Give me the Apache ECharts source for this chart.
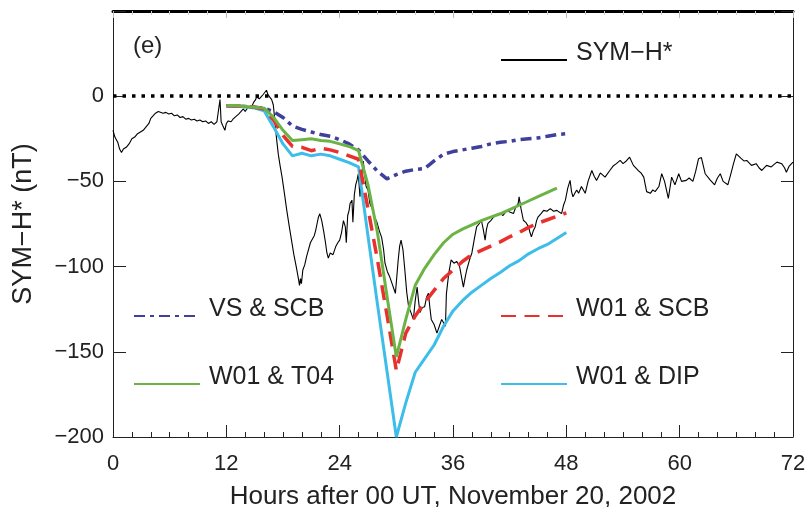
<!DOCTYPE html>
<html><head><meta charset="utf-8">
<script src="https://cdn.jsdelivr.net/npm/echarts@6/dist/echarts.min.js"></script>
<style>html,body{margin:0;padding:0;background:#fff}#c{width:808px;height:507px}</style>
</head><body><div id="c"></div>
<script>
// ---- data ----
const modelHours = [12,13,14,15,16,17,18,19,20,21,22,23,24,25,26,27,28,29,30,31,32,33,34,35,36,37,38,39,40,41,42,43,44,45,46,47,48];
const vsScb  = [-5.6,-5.8,-6,-6.5,-7,-9,-12.5,-17.5,-19.5,-21,-22.5,-23.5,-25.5,-28,-31.5,-38,-44,-48.5,-46,-44,-43,-42.5,-38,-34,-32.5,-31.5,-30.5,-29.5,-28,-27,-26.5,-25.5,-25,-24.5,-23.5,-22.5,-22];
const w01Scb = [-5.6,-5.6,-6,-6.5,-7.5,-14,-23,-29.5,-30,-32,-30.5,-31.5,-33,-35,-37,-66,-96,-128,-161,-139,-129,-121,-114,-107,-102,-97,-93,-90.5,-88,-85.5,-82.5,-80,-77,-74.5,-72.5,-70.5,-68.5];
const w01T04 = [-5.5,-5.5,-6,-6.5,-7,-12.4,-20,-26,-25.5,-25,-26,-26.5,-28,-29.5,-32,-52,-80,-117,-153,-131,-111,-101,-93,-86,-81,-78,-75.5,-73,-71,-69,-66.5,-64,-61.5,-59,-56.5,-54,null];
const w01Dip = [-5.6,-5.8,-6.3,-7,-8.5,-18,-28,-35,-33.5,-35,-34,-35,-37,-39,-41.5,-82,-122,-161,-200,-180,-162,-154,-146,-135,-126,-120,-115,-111,-107,-103.5,-99.5,-96.5,-92.5,-89.5,-87,-83.5,-80];
const symH = [
[0,-20],[0.2,-24],[0.5,-27],[0.7,-31],[0.9,-33],[1.1,-31],[1.4,-30],[1.7,-28],[2.0,-25],[2.3,-24],[2.6,-22],[2.9,-21],[3.2,-20],[3.5,-18],[3.8,-16],[4.0,-13],[4.2,-12],[4.5,-10],[4.8,-9],[5.0,-8.5],[5.3,-10],[5.6,-9.5],[5.9,-10.5],[6.2,-10],[6.5,-11.5],[6.8,-11],[7.1,-12.5],[7.4,-12],[7.7,-13.5],[8.0,-13],[8.3,-14],[8.6,-13.5],[8.9,-14.5],[9.2,-14],[9.5,-15],[9.8,-14.5],[10.1,-16],[10.4,-15],[10.7,-16.5],[11.0,-15],[11.2,-14],[11.33,-2],[11.45,-15],[11.6,-17],[11.85,-20],[12.0,-16],[12.2,-14.5],[12.5,-15],[12.7,-13.5],[13.0,-12],[13.3,-10.5],[13.5,-11],[13.8,-7.5],[14.0,-9],[14.3,-6.5],[14.6,-7],[14.9,-3.5],[15.1,-2],[15.2,-0.5],[15.5,-1.5],[15.7,-0.3],[15.9,1],[16.1,1.5],[16.25,3.5],[16.4,1],[16.6,-0.5],[16.8,-2],[16.97,-5],[17.1,-12],[17.3,-24],[17.5,-34],[17.7,-41],[17.9,-47.5],[18.15,-57],[18.4,-67],[18.65,-76],[18.9,-84.5],[19.15,-93],[19.4,-100],[19.6,-106],[19.75,-111],[19.85,-107],[19.95,-110],[20.1,-102],[20.3,-99],[20.5,-94],[20.7,-90],[20.9,-86],[21.1,-84],[21.3,-82],[21.45,-79],[21.6,-75],[21.75,-71],[21.9,-69],[22.1,-73],[22.3,-79],[22.5,-86],[22.65,-92],[22.8,-95],[23.0,-92],[23.3,-93],[23.6,-88],[23.8,-86],[24.0,-84.5],[24.2,-80],[24.4,-73],[24.6,-76.7],[24.7,-86],[24.85,-70],[25.0,-67],[25.1,-63],[25.3,-61],[25.4,-74],[25.55,-58],[25.7,-52],[25.85,-49],[25.97,-45.5],[26.15,-59],[26.3,-48],[26.5,-38],[26.65,-46],[26.8,-53],[27.0,-55],[27.2,-63],[27.45,-66],[27.7,-71],[27.95,-74],[28.2,-79],[28.45,-83],[28.65,-90],[28.8,-98],[29.05,-103],[29.3,-106],[29.55,-110],[29.8,-114],[29.9,-115.7],[30.05,-106],[30.2,-96],[30.35,-88],[30.5,-84.5],[30.7,-90],[30.9,-102],[31.1,-115],[31.3,-123.5],[31.55,-127],[31.8,-131],[32.0,-120],[32.2,-112],[32.35,-120],[32.5,-127],[32.75,-124],[33.0,-123.5],[33.2,-118],[33.4,-115.7],[33.55,-124],[33.7,-131],[34.0,-134],[34.3,-139],[34.55,-135],[34.8,-131],[35.0,-133],[35.2,-135],[35.3,-116],[35.55,-104],[35.8,-96],[36.1,-98],[36.4,-97],[36.7,-100],[36.9,-106],[37.1,-112],[37.3,-106],[37.45,-102],[37.75,-96],[38.0,-92],[38.25,-84],[38.5,-76.7],[38.75,-75],[39.0,-72.8],[39.2,-78],[39.4,-84.5],[39.55,-78],[39.7,-74.7],[40.0,-73],[40.3,-70.9],[40.6,-70],[40.98,-68.9],[41.3,-70],[41.7,-67],[42.0,-68],[42.4,-68.9],[42.65,-65],[42.9,-63],[43.0,-59],[43.2,-66],[43.45,-72.8],[43.7,-74],[44.0,-76.7],[44.15,-80],[44.3,-82.6],[44.5,-79],[44.7,-76.7],[44.85,-73],[45.0,-70.9],[45.3,-69],[45.6,-67],[45.95,-67.5],[46.3,-66],[46.65,-67.5],[47.0,-67],[47.25,-68],[47.5,-68.9],[47.7,-64],[47.9,-61],[48.15,-54],[48.4,-49.4],[48.55,-56],[48.7,-59],[48.9,-57],[49.1,-55],[49.3,-57],[49.6,-53],[50.0,-57],[50.3,-50],[50.7,-43.6],[50.95,-47],[51.2,-49.4],[51.6,-45],[52.1,-47.5],[52.6,-43.6],[52.95,-41],[53.3,-39.6],[53.7,-37.7],[54.0,-39.6],[54.35,-38],[54.7,-35.8],[55.1,-40.6],[55.6,-43.6],[55.9,-45],[56.2,-47.5],[56.5,-56],[56.9,-57],[57.15,-55],[57.4,-56],[57.8,-53],[58.1,-45.5],[58.4,-50],[58.8,-60],[59.15,-47.5],[59.5,-52],[59.9,-45.5],[60.2,-50],[60.7,-49.4],[61.0,-48],[61.4,-50],[61.7,-44],[62.0,-36.7],[62.3,-36],[62.7,-45.5],[63.2,-49],[63.7,-52],[64.0,-48],[64.3,-45.5],[64.6,-50],[65.1,-52],[65.4,-46],[65.7,-39.6],[66.0,-33.8],[66.5,-36.5],[66.8,-38],[67.1,-37.7],[67.6,-40.6],[68.1,-39.6],[68.4,-42],[68.7,-43.6],[69.2,-40.6],[69.7,-41.5],[70.0,-40],[70.3,-38.7],[70.8,-39.6],[71.1,-42],[71.3,-44.6],[71.6,-41],[72,-38.7]
];
const seriesNames = ['SYM\u2212H*','VS & SCB','W01 & SCB','W01 & T04','W01 & DIP'];
const xName = 'Hours after 00 UT, November 20, 2002';
const yName = 'SYM\u2212H* (nT)';
const panelLabel = '(e)';

// ---- chart ----
const FF = 'Liberation Sans, Arial, sans-serif';
const chart = echarts.init(document.getElementById('c'), null, {renderer:'canvas'});
const pairs = vals => modelHours.map((h,i)=>[h, vals[i]]).filter(p=>p[1]!==null);
function leg(name, left, top){
  return {data:[name], left:left, top:top, orient:'horizontal', itemWidth:66, itemHeight:14,
    selectedMode:false, padding:0,
    itemStyle:{opacity:0, color:'rgba(0,0,0,0)', borderWidth:0},
    formatter:'{t|{name}}',
    textStyle:{fontFamily:FF, fontSize:25, color:'#222',
      rich:{t:{fontFamily:FF, fontSize:25, color:'#222', lineHeight:26, padding:[0,0,13,4]}}}};
}
const option = {
  animation:false,
  textStyle:{fontFamily:FF},
  grid:{left:113, right:15, top:11, bottom:70, outerBoundsMode:'none', containLabel:false},
  legend:[
    leg(seriesNames[0], 500, 41),
    leg(seriesNames[1], 133, 297),
    leg(seriesNames[3], 133, 365),
    leg(seriesNames[2], 500, 297),
    leg(seriesNames[4], 500, 365)
  ],
  graphic:[{type:'text', left:133, top:34, style:{text:panelLabel, font:'24px Liberation Sans', fill:'#222'}}],
  xAxis:[{
    type:'value', min:0, max:72, interval:12, position:'bottom',
    name:xName, nameLocation:'middle', nameGap:47,
    nameTextStyle:{fontSize:26, color:'#222', fontFamily:FF},
    axisLine:{show:true, onZero:false, lineStyle:{color:'#222', width:1}},
    axisTick:{show:true, inside:true, length:12, lineStyle:{color:'#222'}},
    minorTick:{show:true, splitNumber:6, length:5, lineStyle:{color:'#222'}},
    axisLabel:{fontSize:22, color:'#222', margin:16, fontFamily:FF},
    splitLine:{show:false}
  },{
    type:'value', min:0, max:72, interval:12, position:'top',
    axisLine:{show:true, onZero:false, lineStyle:{color:'#000', width:3}},
    axisTick:{show:true, inside:true, length:7, lineStyle:{color:'#bbb'}},
    minorTick:{show:true, splitNumber:6, length:4, lineStyle:{color:'#ccc'}},
    axisLabel:{show:false}, splitLine:{show:false}
  }],
  yAxis:[{
    type:'value', min:-200, max:50, interval:50, position:'left',
    name:yName, nameLocation:'middle', nameRotate:90, nameGap:76,
    nameTextStyle:{fontSize:27, color:'#222', fontFamily:FF},
    axisLine:{show:true, onZero:false, lineStyle:{color:'#222', width:1}},
    axisTick:{show:true, inside:true, length:13, lineStyle:{color:'#222'}},
    axisLabel:{fontSize:22, color:'#222', margin:9, fontFamily:FF,
      formatter:v => v > 0 ? '' : String(v).replace('-', '\u2212')},
    splitLine:{show:false}
  },{
    type:'value', min:-200, max:50, interval:50, position:'right',
    axisLine:{show:true, onZero:false, lineStyle:{color:'#222', width:1}},
    axisTick:{show:true, inside:true, length:12, lineStyle:{color:'#222'}},
    axisLabel:{show:false}, splitLine:{show:false}
  }],
  series:[
    {name:seriesNames[0], type:'line', data:symH, symbol:'none', z:2,
      lineStyle:{color:'#000', width:1.1}, itemStyle:{color:'#000'},
      markLine:{silent:true, symbol:['none','none'], label:{show:false},
        lineStyle:{color:'#000', width:3.5, type:[3.5,6], cap:'butt'}, data:[{yAxis:0}]}},
    {name:seriesNames[1], type:'line', data:pairs(vsScb), symbol:'none', z:3,
      lineStyle:{color:'#3f3f9c', width:3.5, type:[11,5,4,5]}, itemStyle:{color:'#3f3f9c'}},
    {name:seriesNames[4], type:'line', data:pairs(w01Dip), symbol:'none', z:4,
      lineStyle:{color:'#3dbde9', width:3}, itemStyle:{color:'#3dbde9'}},
    {name:seriesNames[2], type:'line', data:pairs(w01Scb), symbol:'none', z:5,
      lineStyle:{color:'#e8312e', width:3.5, type:[15,8.5]}, itemStyle:{color:'#e8312e'}},
    {name:seriesNames[3], type:'line', data:pairs(w01T04), symbol:'none', z:6,
      lineStyle:{color:'#6cb346', width:3}, itemStyle:{color:'#6cb346'}}
  ]
};
chart.setOption(option);
</script>
</body></html>
